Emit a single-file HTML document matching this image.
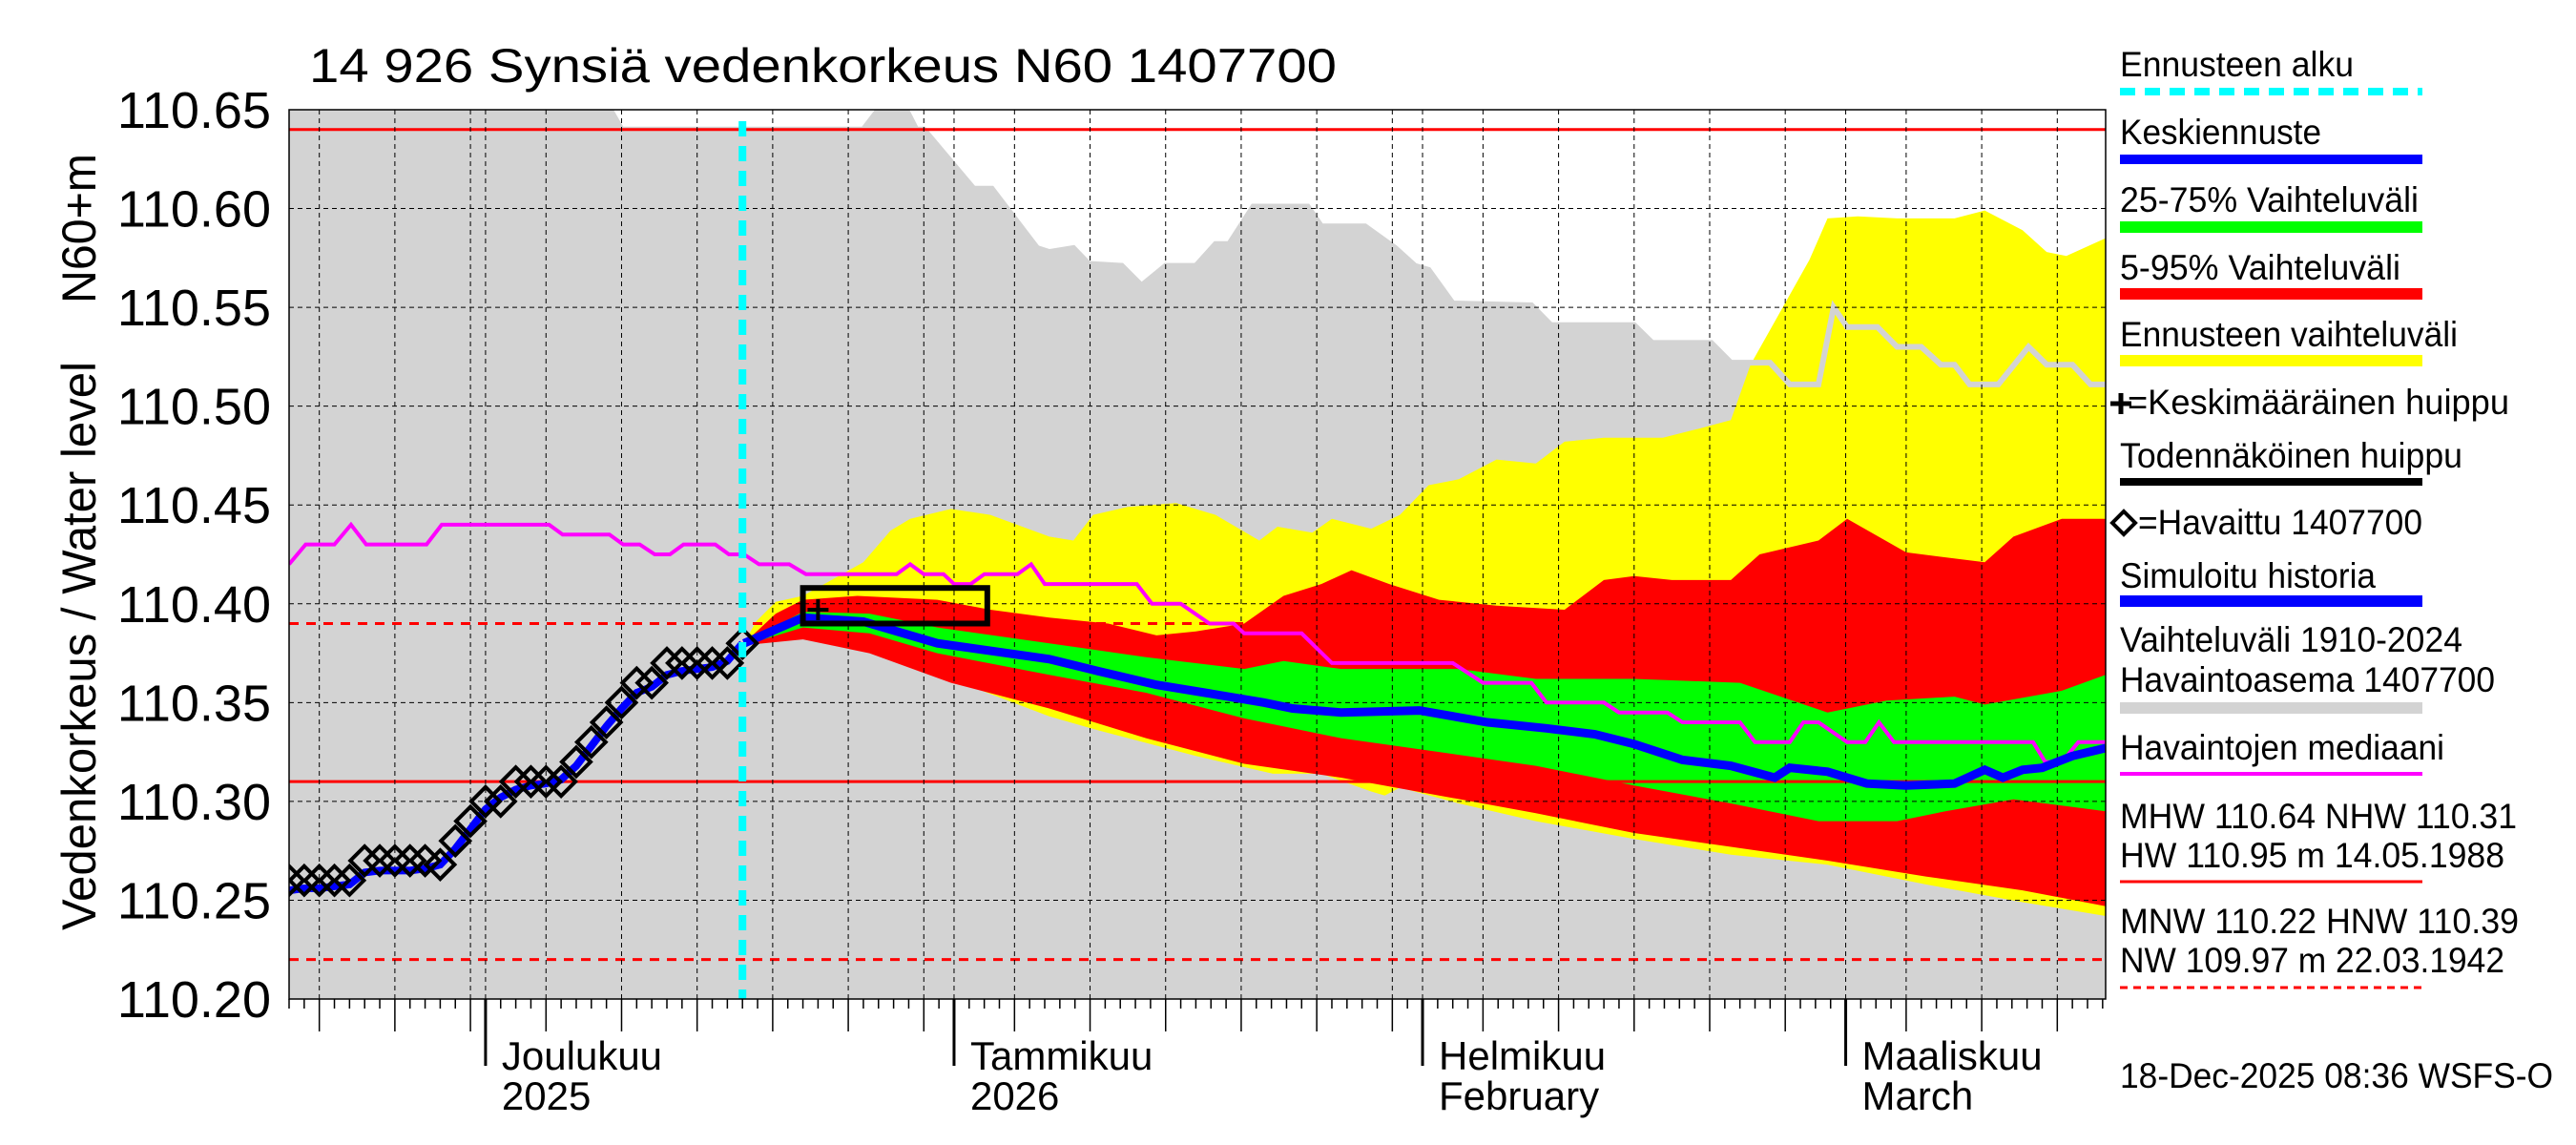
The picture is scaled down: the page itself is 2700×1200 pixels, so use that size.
<!DOCTYPE html>
<html><head><meta charset="utf-8"><title>Synsiä vedenkorkeus</title>
<style>html,body{margin:0;padding:0;background:#fff;}svg{display:block;font-family:"Liberation Sans",sans-serif;}</style>
</head><body>
<svg id="chart" xmlns="http://www.w3.org/2000/svg" width="2700" height="1200" viewBox="0 0 2700 1200">
<rect x="0" y="0" width="2700" height="1200" fill="#fff"/>
<g id="plot"></g>
<text x="324" y="86" font-size="50" textLength="1077" lengthAdjust="spacingAndGlyphs">14 926 Synsiä vedenkorkeus N60 1407700</text>
<text transform="translate(100,975) rotate(-90)" font-size="50" textLength="596" lengthAdjust="spacingAndGlyphs">Vedenkorkeus / Water level</text>
<text transform="translate(100,318) rotate(-90)" font-size="50" textLength="157" lengthAdjust="spacingAndGlyphs">N60+m</text>
<g id="legend" font-size="37"></g>
</svg>
<script>
// ---- data (day offsets from 18 Nov 2025) ----
const yTicks = [110.20,110.25,110.30,110.35,110.40,110.45,110.50,110.55,110.60,110.65];
const monthLabels = ["Joulukuu","Tammikuu","Helmikuu","Maaliskuu"];
const monthLabels2 = ["2025","2026","February","March"];
const monthDays = [13,44,75,103];
const greyDays = [0,20.5,22,38,39.5,40.5,41.5,42,45.3,46.5,49.5,50.3,51.9,52.9,55.1,56.4,58.0,60.0,61.3,62.2,63.8,67.4,68.3,71.2,73.2,74.5,75.4,77.0,82.2,83.5,89.0,90.2,94.1,95.4,98.0,99.3,101.2,102.2,103.1,105.1,106.4,108.0,109.3,110.2,111.2,113.1,115.1,116.3,118.0,119.2,120.2];
const greyTop = [110.66,110.66,110.64,110.64,110.655,110.655,110.64,110.64,110.61,110.61,110.58,110.578,110.58,110.572,110.571,110.561,110.571,110.571,110.582,110.582,110.601,110.601,110.591,110.591,110.58,110.571,110.569,110.552,110.551,110.541,110.541,110.532,110.532,110.522,110.522,110.511,110.511,110.55,110.54,110.54,110.53,110.53,110.521,110.521,110.511,110.511,110.53,110.521,110.521,110.511,110.511];
const yelTopDays = [30.1,30.9,32.2,34.0,38,39.8,41.1,43.8,46.4,50.3,51.9,53.2,55.5,58.7,61.3,64.2,65.4,67.7,69,71.6,73.5,75.4,77.4,79.9,82.5,84.4,87.0,90.9,93.5,95.4,96.7,100.6,101.8,103.8,106.4,110.2,112.2,114.7,116.3,117.6,120.2];
const yelTop = [110.38,110.391,110.401,110.404,110.421,110.437,110.443,110.448,110.445,110.434,110.432,110.445,110.449,110.451,110.445,110.432,110.439,110.436,110.443,110.438,110.445,110.46,110.463,110.473,110.471,110.482,110.484,110.484,110.489,110.493,110.521,110.574,110.595,110.596,110.595,110.595,110.599,110.589,110.578,110.576,110.585];
const yelBotDays = [30.1,31.4,34,38,43.8,50.3,53.5,60,65.1,68.3,71.6,72.5,73.5,77.4,82.5,89,95.4,101.8,108.3,114.7,120.2];
const yelBot = [110.38,110.385,110.384,110.378,110.362,110.343,110.336,110.323,110.314,110.314,110.305,110.303,110.307,110.299,110.29,110.281,110.273,110.268,110.258,110.249,110.242];
const redTopDays = [30.1,32.2,34,37.6,42.9,46.4,50.3,54.2,57.4,60,63.2,65.8,68.3,70.3,72.8,76.1,79.9,84.4,87,89,91.5,95.4,97.3,101.2,103.1,107,112.2,114.1,117.3,120.2];
const redTop = [110.38,110.395,110.402,110.404,110.402,110.397,110.393,110.39,110.384,110.386,110.39,110.404,110.41,110.417,110.41,110.402,110.399,110.397,110.412,110.414,110.412,110.412,110.425,110.432,110.443,110.426,110.421,110.434,110.443,110.443];
const redBotDays = [30.1,34,38.4,43.8,50.3,56.7,63.2,69.6,76.1,82.5,89,95.4,101.8,108.3,114.7,120.2];
const redBot = [110.379,110.382,110.375,110.36,110.347,110.332,110.319,110.312,110.303,110.294,110.284,110.277,110.27,110.262,110.255,110.247];
const grnTopDays = [30.1,34,38.4,42.9,50.3,56.7,63.2,65.8,69.6,77.4,82.5,89,96,101.8,105.7,110.2,112.2,117.3,120.2];
const grnTop = [110.38,110.396,110.395,110.388,110.38,110.373,110.367,110.371,110.367,110.367,110.362,110.362,110.36,110.345,110.351,110.353,110.349,110.356,110.364];
const grnBotDays = [30.1,34,38.4,42.9,50.3,56.7,63.2,69.6,76.1,82.5,89,95.4,101.2,106.4,109.6,114.1,120.2];
const grnBot = [110.379,110.388,110.385,110.375,110.364,110.355,110.342,110.332,110.325,110.318,110.308,110.299,110.29,110.29,110.295,110.301,110.295];
const medDays = [30.1,34,38,42.9,50.3,53.5,57.4,60.6,64.5,66.4,69.6,74.8,79.3,83.2,86.4,89,92.2,95.4,98.3,99.3,101.8,104.4,107,110.2,112.2,113.4,114.7,116,118,120.2];
const medVals = [110.38,110.393,110.391,110.38,110.372,110.366,110.359,110.355,110.35,110.347,110.345,110.346,110.34,110.337,110.334,110.329,110.321,110.318,110.312,110.317,110.315,110.309,110.308,110.309,110.316,110.312,110.316,110.317,110.323,110.327];
const simVals = [110.255,110.256,110.256,110.257,110.258,110.264,110.265,110.265,110.265,110.266,110.268,110.276,110.286,110.296,110.302,110.306,110.308,110.309,110.311,110.318,110.328,110.338,110.347,110.355,110.358,110.364,110.366,110.367,110.368,110.371,110.38];
const obsVals = [110.26,110.26,110.26,110.26,110.26,110.27,110.27,110.27,110.27,110.27,110.268,110.28,110.29,110.30,110.30,110.31,110.31,110.31,110.31,110.32,110.33,110.34,110.35,110.36,110.36,110.37,110.37,110.37,110.37,110.37,110.38];
const magDays = [0,1.1,3,4.1,5.1,9.1,10.1,17.2,18.1,21.2,22.1,23.2,24.2,25.2,26.1,28.2,29.1,30.1,31.1,33.1,34.2,40.2,41.1,42,43.3,44,45.1,46,48.2,49.1,50,50.3,56.1,57.1,59,60.9,62.5,63.2,67,69,77,79,82.2,83.2,87,88,91.2,92.2,96,97,99.3,100.2,101.2,103.1,104.3,105.2,106.2,115.4,116.2,117.3,118.4,120.2];
const magVals = [110.42,110.43,110.43,110.44,110.43,110.43,110.44,110.44,110.435,110.435,110.43,110.43,110.425,110.425,110.43,110.43,110.425,110.425,110.42,110.42,110.415,110.415,110.42,110.415,110.415,110.41,110.41,110.415,110.415,110.42,110.41,110.41,110.41,110.40,110.40,110.39,110.39,110.385,110.385,110.37,110.37,110.36,110.36,110.35,110.35,110.345,110.345,110.34,110.34,110.33,110.33,110.34,110.34,110.33,110.33,110.34,110.33,110.33,110.32,110.32,110.33,110.33];
const refLevels = [110.64,110.31,110.39,110.22];
const forecastStart = 30;
const peakBox = [34.0,46.2,110.390,110.408];
const meanPeak = [35,110.397];

// ---- axes ----
const X0=303,X1=2207,Y0=115,Y1=1047,D0=0,D1=120.2,V0=110.20,V1=110.65;
const xs=d=>X0+(d-D0)/(D1-D0)*(X1-X0);
const ys=v=>Y1-(v-V0)/(V1-V0)*(Y1-Y0);
const NS="http://www.w3.org/2000/svg";
const plot=document.getElementById('plot');
function mk(tag,attrs,parent){const e=document.createElementNS(NS,tag);for(const k in attrs)e.setAttribute(k,attrs[k]);(parent||plot).appendChild(e);return e;}
function pts(ds,vs){return ds.map((d,i)=>xs(d).toFixed(1)+','+ys(vs[i]).toFixed(1));}
function band(d1,v1,d2,v2){return pts(d1,v1).concat(pts(d2,v2).reverse()).join(' ');}
const clip=mk('clipPath',{id:'pc'});mk('rect',{x:X0,y:Y0,width:X1-X0,height:Y1-Y0},clip);
const g=mk('g',{'clip-path':'url(#pc)'});

let e;
e=mk('polygon',{points:[X0+','+Y1].concat(pts(greyDays,greyTop)).concat([X1+','+Y1]).join(' '),fill:'#d3d3d3'},g);


e=mk('polygon',{points:band(yelTopDays,yelTop,yelBotDays,yelBot),fill:'#ffff00'},g);


e=mk('polyline',{points:pts(greyDays,greyTop).join(' '),fill:'none',stroke:'#d3d3d3','stroke-width':6},g);


refLevels.forEach((v,i)=>{ if(i<2) return;
  const l=mk('line',{x1:X0,x2:X1,y1:ys(v),y2:ys(v),stroke:'#ff0000','stroke-width':3,'stroke-dasharray':'10,8'},g);
  
  
});
e=mk('polygon',{points:band(redTopDays,redTop,redBotDays,redBot),fill:'#ff0000'},g);


e=mk('polygon',{points:band(grnTopDays,grnTop,grnBotDays,grnBot),fill:'#00ff00'},g);


refLevels.forEach((v,i)=>{ if(i>=2) return;
  const l=mk('line',{x1:X0,x2:X1,y1:ys(v),y2:ys(v),stroke:'#ff0000','stroke-width':3},g);
  
  
});
// grid
yTicks.forEach(v=>{const l=mk('line',{x1:X0,x2:X1,y1:ys(v),y2:ys(v),stroke:'#000','stroke-width':1,'stroke-dasharray':'5,4'},g);
  
  });
const gridDays=[2,7,12,13,17,22,27,32,37,42,44,48,53,58,63,68,73,75,79,84,89,94,99,103,107,112,117];
gridDays.forEach(d=>{const l=mk('line',{x1:xs(d),x2:xs(d),y1:Y0,y2:Y1,stroke:'#000','stroke-width':1,'stroke-dasharray':'5,4'},g);
  
  });
// magenta median
e=mk('polyline',{points:pts(magDays,magVals).join(' '),fill:'none',stroke:'#ff00ff','stroke-width':4},g);


// simulated history
e=mk('polyline',{points:pts(simVals.map((v,i)=>i),simVals).join(' '),fill:'none',stroke:'#0000ff','stroke-width':8},g);


e=mk('polyline',{points:pts(medDays,medVals).join(' '),fill:'none',stroke:'#0000ff','stroke-width':9},g);


// observations
obsVals.forEach((v,i)=>{const cx=xs(i),cy=ys(v);
  const p=mk('polygon',{points:`${cx-15},${cy} ${cx},${cy-15} ${cx+15},${cy} ${cx},${cy+15}`,fill:'none',stroke:'#000','stroke-width':4},g);
  
  });
// forecast start
e=mk('line',{x1:xs(forecastStart),x2:xs(forecastStart),y1:Y0+12,y2:Y1,stroke:'#00ffff','stroke-width':8,'stroke-dasharray':'16,10'},g);


// peak box
e=mk('rect',{x:xs(peakBox[0]),y:ys(peakBox[3]),width:xs(peakBox[1])-xs(peakBox[0]),height:ys(peakBox[2])-ys(peakBox[3]),fill:'none',stroke:'#000','stroke-width':6},g);


e=mk('path',{d:`M${xs(meanPeak[0])-11},${ys(meanPeak[1])}h22M${xs(meanPeak[0])},${ys(meanPeak[1])-11}v22`,stroke:'#000','stroke-width':4},g);


// frame & ticks
e=mk('rect',{x:X0,y:Y0,width:X1-X0,height:Y1-Y0,fill:'none',stroke:'#000','stroke-width':1.5});


yTicks.forEach(v=>{const t=mk('text',{x:284,y:ys(v)+19,'font-size':54,'text-anchor':'end'});t.textContent=v.toFixed(2);
  
  });
for(let d=0;d<=120;d++){const isM=monthDays.includes(d),isG=gridDays.includes(d);
  const l=mk('line',{x1:xs(d),x2:xs(d),y1:Y1,y2:Y1+(isM?70:(isG?34:10)),stroke:'#000','stroke-width':isM?3:1.5});
  
  }
monthDays.forEach((d,i)=>{const a=mk('text',{x:xs(d)+17,y:1121,'font-size':42});a.textContent=monthLabels[i];
  
  
  const b=mk('text',{x:xs(d)+17,y:1163,'font-size':42});b.textContent=monthLabels2[i];
  
  });

// ---- legend ----
const leg=document.getElementById('legend');
const legTexts=[["Ennusteen alku",80,245],["Keskiennuste",151,211],["25-75% Vaihteluväli",222,313],["5-95% Vaihteluväli",293,294],["Ennusteen vaihteluväli",363,354],["=Keskimääräinen huippu",434,400],["Todennäköinen huippu",490,359],["=Havaittu 1407700",560,298],["Simuloitu historia",616,268],["Vaihteluväli 1910-2024",683,359],["Havaintoasema 1407700",725,393],["Havaintojen mediaani",796,340],["MHW 110.64 NHW 110.31",868,416],["HW 110.95 m 14.05.1988",909,403],["MNW 110.22 HNW 110.39",978,418],["NW 109.97 m 22.03.1942",1019,403],["18-Dec-2025 08:36 WSFS-O",1140,454]];
legTexts.forEach(t=>{let x=2222;if(t[0][0]==='=')x=(t[0].indexOf('Havaittu')>0)?2241:2230;
  const el=mk('text',{x:x,y:t[1],textLength:t[2],lengthAdjust:'spacingAndGlyphs'},leg);el.textContent=t[0];
  
  });
const legLines=[[96,'#00ffff',8,'16,10'],[167,'#0000ff',10,''],[238,'#00ff00',12,''],[308,'#ff0000',12,''],[378,'#ffff00',12,''],[505,'#000',8,''],[630,'#0000ff',12,''],[742,'#d3d3d3',12,''],[811,'#ff00ff',4,''],[924,'#ff0000',3,''],[1035,'#ff0000',3,'8,6']];
legLines.forEach(l=>{const a={x1:2222,x2:2539,y1:l[0],y2:l[0],stroke:l[1],'stroke-width':l[2]};if(l[3])a['stroke-dasharray']=l[3];
  const el=mk('line',a,leg);
  
  });
e=mk('path',{d:'M2212,423h22M2223,412v22',stroke:'#000','stroke-width':5},leg);


e=mk('polygon',{points:'2214,548 2226,536 2238,548 2226,560',fill:'none',stroke:'#000','stroke-width':4},leg);


</script>
</body></html>
